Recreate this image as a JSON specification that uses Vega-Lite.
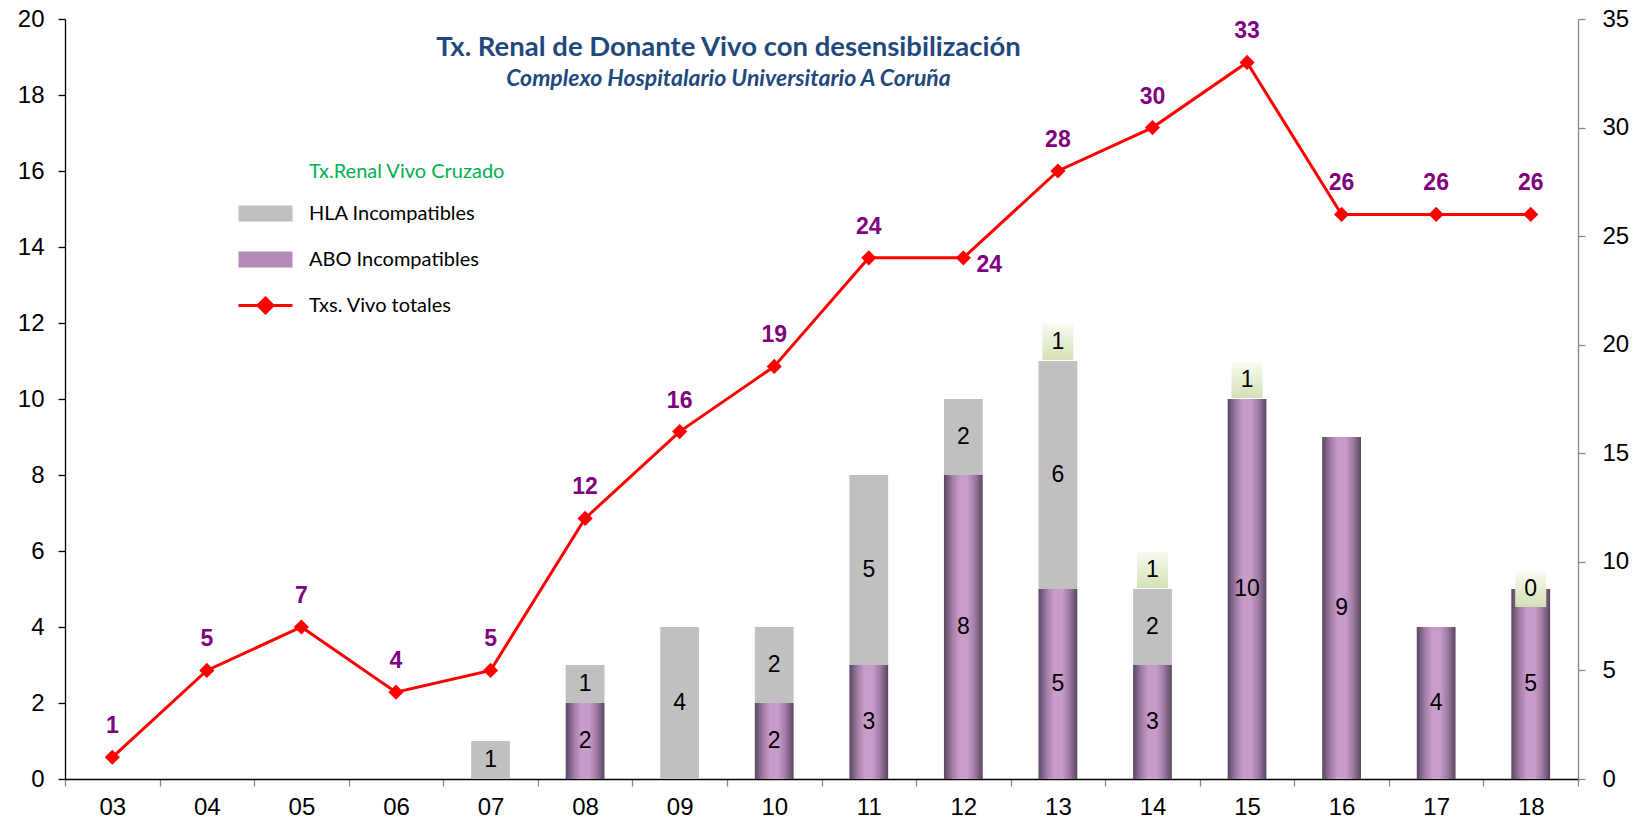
{
  "$schema": "https://vega.github.io/schema/vega-lite/v6.json",
  "width": 1513,
  "height": 760,
  "autosize": {"type": "none"},
  "padding": {"left": 65, "top": 19, "right": 58, "bottom": 44},
  "background": "white",
  "config": {
    "view": {"stroke": null},
    "font": "Liberation Sans",
    "axis": {"grid": false, "labelFont": "Liberation Sans", "labelFontSize": 24, "labelColor": "#000000", "tickSize": 7, "domainWidth": 1.3, "tickWidth": 1.3},
    "axisLeft": {"domainColor": "#000000", "tickColor": "#000000", "labelPadding": 14},
    "axisRight": {"domainColor": "#868686", "tickColor": "#868686", "labelPadding": 17},
    "axisBottom": {"domainColor": "#000000", "tickColor": "#868686", "labelPadding": 9}
  },
  "title": {
    "text": "Tx. Renal de Donante Vivo con desensibilización",
    "subtitle": "Complexo Hospitalario Universitario A Coruña",
    "anchor": "middle", "dx": -93, "offset": -84,
    "font": "Lato", "fontSize": 27.5, "fontWeight": "bold", "color": "#1F497D",
    "subtitleFont": "Lato", "subtitleFontSize": 23, "subtitleFontStyle": "italic", "subtitleFontWeight": "bold", "subtitleColor": "#1F497D", "subtitlePadding": 7
  },
  "data": {"values": [
    {"year": "03", "ABO": 0, "HLA": 0, "TxCruzado": null, "Total": 1},
    {"year": "04", "ABO": 0, "HLA": 0, "TxCruzado": null, "Total": 5},
    {"year": "05", "ABO": 0, "HLA": 0, "TxCruzado": null, "Total": 7},
    {"year": "06", "ABO": 0, "HLA": 0, "TxCruzado": null, "Total": 4},
    {"year": "07", "ABO": 0, "HLA": 1, "TxCruzado": null, "Total": 5},
    {"year": "08", "ABO": 2, "HLA": 1, "TxCruzado": null, "Total": 12},
    {"year": "09", "ABO": 0, "HLA": 4, "TxCruzado": null, "Total": 16},
    {"year": "10", "ABO": 2, "HLA": 2, "TxCruzado": null, "Total": 19},
    {"year": "11", "ABO": 3, "HLA": 5, "TxCruzado": null, "Total": 24},
    {"year": "12", "ABO": 8, "HLA": 2, "TxCruzado": null, "Total": 24},
    {"year": "13", "ABO": 5, "HLA": 6, "TxCruzado": 1, "Total": 28},
    {"year": "14", "ABO": 3, "HLA": 2, "TxCruzado": 1, "Total": 30},
    {"year": "15", "ABO": 10, "HLA": 0, "TxCruzado": 1, "Total": 33},
    {"year": "16", "ABO": 9, "HLA": 0, "TxCruzado": null, "Total": 26},
    {"year": "17", "ABO": 4, "HLA": 0, "TxCruzado": null, "Total": 26},
    {"year": "18", "ABO": 5, "HLA": 0, "TxCruzado": 0, "Total": 26}
  ]},
  "encoding": {
    "x": {"field": "year", "type": "nominal", "sort": null, "title": null,
      "scale": {"paddingInner": 0, "paddingOuter": 0},
      "axis": {"labelAngle": 0, "tickBand": "extent"}}
  },
  "layer": [
    {
      "layer": [
        {
          "mark": {"type": "bar", "width": {"band": 0.41}, "strokeWidth": 0,
            "fill": {"gradient": "linear", "x1": 0, "y1": 0, "x2": 1, "y2": 0, "stops": [
              {"offset": 0, "color": "#5a4560"}, {"offset": 0.22, "color": "#a27ea6"}, {"offset": 0.4, "color": "#c99bca"},
              {"offset": 0.6, "color": "#c99bca"}, {"offset": 0.78, "color": "#a27ea6"}, {"offset": 1, "color": "#5a4560"}]}},
          "encoding": {
            "y": {"field": "ABO", "type": "quantitative", "title": null, "scale": {"domain": [0, 20], "nice": false},
              "axis": {"orient": "left", "values": [0, 2, 4, 6, 8, 10, 12, 14, 16, 18, 20], "title": null}}
          }
        },
        {
          "transform": [{"fold": ["ABO", "HLA"], "as": ["key", "value"]}],
          "mark": {"type": "bar", "width": {"band": 0.41}, "fill": "#c0c0c0", "strokeWidth": 0},
          "encoding": {
            "y": {"field": "value", "type": "quantitative", "stack": "zero", "title": null, "scale": {"domain": [0, 20], "nice": false},
              "axis": {"orient": "left", "values": [0, 2, 4, 6, 8, 10, 12, 14, 16, 18, 20], "title": null}},
            "detail": {"field": "key"},
            "order": {"field": "key", "sort": "ascending"},
            "opacity": {"condition": {"test": "datum.key === 'HLA'", "value": 1}, "value": 0}
          }
        },
        {
          "transform": [
            {"fold": ["ABO", "HLA", "TxCruzado"], "as": ["key", "value"]},
            {"filter": "datum.value != null"}
          ],
          "mark": {"type": "point", "filled": true, "strokeWidth": 0, "size": 5184,
            "shape": "M-0.43,-0.5H0.43V0.5H-0.43Z",
            "fill": {"gradient": "linear", "x1": 0, "y1": 0, "x2": 0, "y2": 1, "stops": [
              {"offset": 0, "color": "#f8fbf2"}, {"offset": 1, "color": "#d3e1b4"}]}},
          "encoding": {
            "y": {"field": "value", "type": "quantitative", "stack": "zero", "bandPosition": 0.5, "title": null, "scale": {"domain": [0, 20], "nice": false},
              "axis": {"orient": "left", "values": [0, 2, 4, 6, 8, 10, 12, 14, 16, 18, 20], "title": null}},
            "detail": {"field": "key"},
            "order": {"field": "key", "sort": "ascending"},
            "opacity": {"condition": {"test": "datum.key === 'TxCruzado'", "value": 1}, "value": 0}
          }
        },
        {
          "transform": [
            {"fold": ["ABO", "HLA", "TxCruzado"], "as": ["key", "value"]},
            {"filter": "datum.key === 'TxCruzado' ? datum.value != null : datum.value > 0"}
          ],
          "mark": {"type": "text", "font": "Liberation Sans", "fontSize": 23, "color": "#000000", "baseline": "middle", "align": "center"},
          "encoding": {
            "y": {"field": "value", "type": "quantitative", "stack": "zero", "bandPosition": 0.5, "title": null, "scale": {"domain": [0, 20], "nice": false},
              "axis": {"orient": "left", "values": [0, 2, 4, 6, 8, 10, 12, 14, 16, 18, 20], "title": null}},
            "detail": {"field": "key"},
            "order": {"field": "key", "sort": "ascending"},
            "text": {"field": "value", "type": "quantitative"}
          }
        },
        {
          "transform": [{"fold": ["TxCruzado", "HLA", "ABO", "Total"], "as": ["key", "value"]}],
          "mark": {"type": "point", "opacity": 0, "filled": true},
          "encoding": {
            "fill": {"field": "key", "type": "nominal",
              "scale": {"domain": ["TxCruzado", "HLA", "ABO", "Total"], "range": ["#00B050", "#c0c0c0", "#b48ab6", "#ff0000"]},
              "legend": {
                "orient": "none", "legendX": 184, "legendY": 136, "title": null, "padding": 0,
                "symbolSize": 900, "labelOffset": 27, "rowPadding": 15,
                "labelFont": "Lato", "labelFontSize": 20, "labelColor": "#000000", "labelLimit": 400,
                "labelExpr": "datum.value === 'TxCruzado' ? 'Tx.Renal Vivo Cruzado' : datum.value === 'HLA' ? 'HLA Incompatibles' : datum.value === 'ABO' ? 'ABO Incompatibles' : 'Txs. Vivo totales'",
                "encode": {
                  "symbols": {"update": {
                    "opacity": [{"test": "datum.value === 'TxCruzado'", "value": 0}, {"value": 1}],
                    "fillOpacity": {"value": 1},
                    "strokeOpacity": {"value": 1},
                    "size": {"value": 900},
                    "shape": [{"test": "datum.value === 'Total'", "value": "M-1.8,0H1.8M0,-0.5L0.5,0L0,0.5L-0.5,0Z"}, {"value": "M-1.8,-0.53H1.8V0.53H-1.8Z"}],
                    "fill": {"signal": "datum.value === 'ABO' ? {gradient: 'linear', x1: 0, y1: 0, x2: 1, y2: 0, stops: [{offset: 0, color: '#5a4560'}, {offset: 0.22, color: '#a27ea6'}, {offset: 0.4, color: '#c99bca'}, {offset: 0.6, color: '#c99bca'}, {offset: 0.78, color: '#a27ea6'}, {offset: 1, color: '#5a4560'}]} : datum.value === 'HLA' ? '#c0c0c0' : datum.value === 'Total' ? '#ff0000' : 'transparent'"},
                    "stroke": [{"test": "datum.value === 'Total'", "value": "#ff0000"}, {"value": "transparent"}],
                    "strokeWidth": {"value": 3}
                  }},
                  "labels": {"update": {
                    "fill": [{"test": "datum.value === 'TxCruzado'", "value": "#00B050"}, {"value": "#000000"}]
                  }}
                }
              }
            }
          }
        }
      ]
    },
    {
      "layer": [
        {
          "mark": {"type": "line", "color": "#ff0000", "strokeWidth": 3},
          "encoding": {
            "y": {"field": "Total", "type": "quantitative", "title": null, "scale": {"domain": [0, 35], "nice": false},
              "axis": {"orient": "right", "values": [0, 5, 10, 15, 20, 25, 30, 35], "title": null}}
          }
        },
        {
          "mark": {"type": "point", "shape": "diamond", "size": 230, "filled": true, "color": "#ff0000", "opacity": 1},
          "encoding": {
            "y": {"field": "Total", "type": "quantitative", "title": null, "scale": {"domain": [0, 35], "nice": false},
              "axis": {"orient": "right", "values": [0, 5, 10, 15, 20, 25, 30, 35], "title": null}}
          }
        },
        {
          "transform": [{"filter": "datum.year !== '12'"}],
          "mark": {"type": "text", "font": "Liberation Sans", "fontSize": 23, "fontWeight": "bold", "color": "#800080", "dy": -31, "baseline": "middle"},
          "encoding": {
            "y": {"field": "Total", "type": "quantitative", "title": null, "scale": {"domain": [0, 35], "nice": false},
              "axis": {"orient": "right", "values": [0, 5, 10, 15, 20, 25, 30, 35], "title": null}},
            "text": {"field": "Total", "type": "quantitative"}
          }
        },
        {
          "transform": [{"filter": "datum.year === '12'"}],
          "mark": {"type": "text", "font": "Liberation Sans", "fontSize": 23, "fontWeight": "bold", "color": "#800080", "dx": 26, "dy": 7, "baseline": "middle"},
          "encoding": {
            "y": {"field": "Total", "type": "quantitative", "title": null, "scale": {"domain": [0, 35], "nice": false},
              "axis": {"orient": "right", "values": [0, 5, 10, 15, 20, 25, 30, 35], "title": null}},
            "text": {"field": "Total", "type": "quantitative"}
          }
        }
      ]
    }
  ],
  "resolve": {"scale": {"y": "independent"}}
}
